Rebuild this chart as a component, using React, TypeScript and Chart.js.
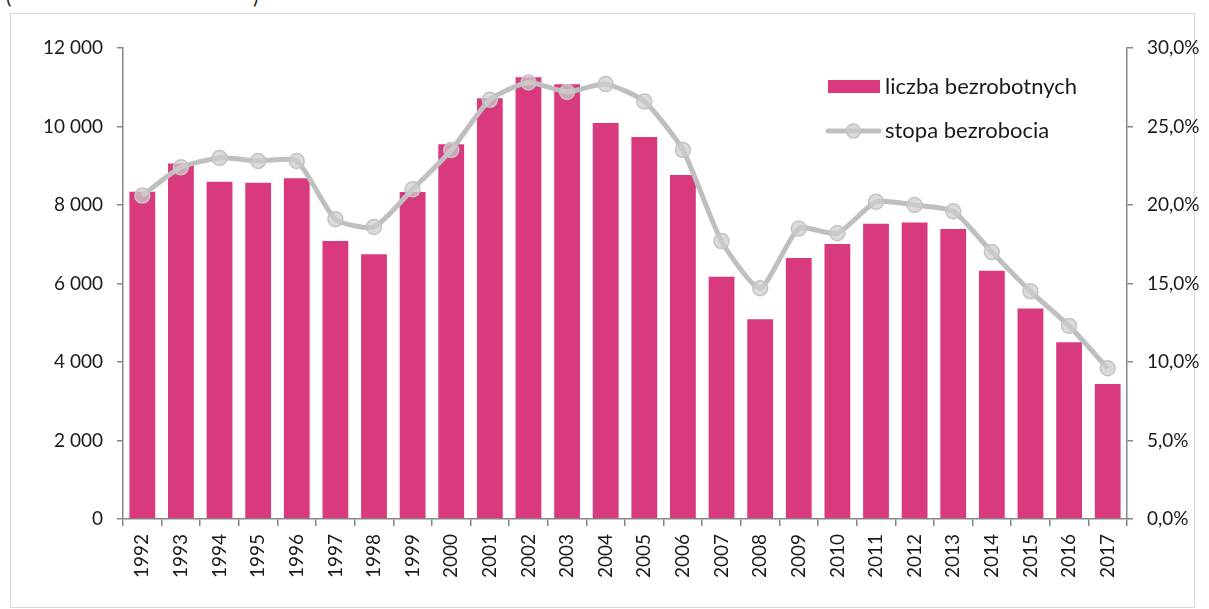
import React, { useEffect, useRef } from "react";
import { Chart, registerables } from "chart.js";

Chart.register(...registerables);

const years = [
  "1992", "1993", "1994", "1995", "1996", "1997", "1998", "1999", "2000", "2001",
  "2002", "2003", "2004", "2005", "2006", "2007", "2008", "2009", "2010", "2011",
  "2012", "2013", "2014", "2015", "2016", "2017",
];

const unemployed = [
  8360, 9080, 8620, 8590, 8705, 7108, 6770, 8357, 9571, 10744,
  11279, 11100, 10115, 9758, 8790, 6199, 5113, 6675, 7032, 7545,
  7580, 7414, 6350, 5390, 4530, 3465,
];

const rate = [
  20.6, 22.4, 23.0, 22.8, 22.8, 19.1, 18.6, 21.0, 23.5, 26.7,
  27.8, 27.2, 27.7, 26.6, 23.5, 17.7, 14.7, 18.5, 18.2, 20.2,
  20.0, 19.6, 17.0, 14.5, 12.3, 9.6,
];

const seriesLabels = ["liczba bezrobotnych", "stopa bezrobocia"];

const FONT_FAMILY = "Lato, 'Open Sans', sans-serif";
const FONT_SIZE = 19;
const LEGEND_FONT_SIZE = 22;
const TEXT_COLOR = "#1a1a1a";
const AXIS_COLOR = "#868686";
const BAR_COLOR = "#D93A7E";
const LINE_COLOR = "#BFBFBF";
const POINT_FILL = "rgba(205,205,205,0.72)";
const POINT_BORDER = "#C4C4C4";

const formatThousands = (v: number) =>
  String(v).replace(/\B(?=(\d{3})+(?!\d))/g, " ");
const formatPercent = (v: number) => v.toFixed(1).replace(".", ",") + "%";

const legendPlugin = {
  id: "insideLegend",
  afterDraw(chart: any) {
    const ctx = chart.ctx;
    const ds = chart.data.datasets;
    const barDs = ds.find((d: any) => d.type === "bar");
    const lineDs = ds.find((d: any) => d.type === "line");
    ctx.save();
    ctx.font = `${LEGEND_FONT_SIZE}px ${FONT_FAMILY}`;
    ctx.textBaseline = "middle";
    ctx.textAlign = "left";
    // bar entry
    ctx.fillStyle = barDs.backgroundColor;
    ctx.fillRect(828, 80, 52, 13);
    ctx.fillStyle = TEXT_COLOR;
    ctx.fillText(barDs.label, 885, 87);
    // line entry
    ctx.strokeStyle = LINE_COLOR;
    ctx.lineWidth = 5;
    ctx.lineCap = "round";
    ctx.beginPath();
    ctx.moveTo(828, 131);
    ctx.lineTo(879, 131);
    ctx.stroke();
    ctx.beginPath();
    ctx.arc(853.5, 131, 7, 0, Math.PI * 2);
    ctx.fillStyle = POINT_FILL;
    ctx.fill();
    ctx.lineWidth = 1.5;
    ctx.strokeStyle = POINT_BORDER;
    ctx.stroke();
    ctx.fillStyle = TEXT_COLOR;
    ctx.fillText(lineDs.label, 885, 131);
    ctx.restore();
  },
};

export default function App() {
  const canvasRef = useRef<HTMLCanvasElement | null>(null);

  useEffect(() => {
    const canvas = canvasRef.current;
    if (!canvas) return;
    const font = { family: FONT_FAMILY, size: FONT_SIZE };
    const chart = new Chart(canvas, {
      type: "bar",
      data: {
        labels: years,
        datasets: [
          {
            type: "line",
            label: seriesLabels[1],
            data: rate,
            yAxisID: "y1",
            borderColor: LINE_COLOR,
            borderWidth: 5,
            tension: 0.2,
            pointRadius: 7.5,
            pointBackgroundColor: POINT_FILL,
            pointBorderColor: POINT_BORDER,
            pointBorderWidth: 1.5,
            order: 0,
          } as any,
          {
            type: "bar",
            label: seriesLabels[0],
            data: unemployed,
            yAxisID: "y",
            backgroundColor: BAR_COLOR,
            borderColor: "rgba(255,255,255,0.45)",
            borderWidth: 1,
            categoryPercentage: 1,
            barPercentage: 0.72,
            order: 1,
          } as any,
        ],
      },
      options: {
        responsive: false,
        animation: false,
        devicePixelRatio: 1,
        layout: { padding: { top: 48, left: 0, right: 0, bottom: 0 } },
        plugins: {
          legend: { display: false },
          tooltip: { enabled: false },
        },
        scales: {
          x: {
            type: "category",
            offset: true,
            grid: {
              offset: true,
              drawOnChartArea: false,
              drawTicks: true,
              tickLength: 7,
              color: AXIS_COLOR,
              lineWidth: 1.5,
            },
            border: { display: true, color: AXIS_COLOR, width: 1.5 },
            ticks: {
              autoSkip: false,
              minRotation: 90,
              maxRotation: 90,
              padding: 8,
              font,
              color: TEXT_COLOR,
            },
            afterFit: (s: any) => {
              s.height = 90;
            },
          },
          y: {
            position: "left",
            min: 0,
            max: 12000,
            grid: {
              drawOnChartArea: false,
              drawTicks: true,
              tickLength: 6,
              color: AXIS_COLOR,
              lineWidth: 1.5,
            },
            border: { display: true, color: AXIS_COLOR, width: 1.5 },
            ticks: {
              stepSize: 2000,
              padding: 14,
              font,
              color: TEXT_COLOR,
              callback: (v: any) => formatThousands(Number(v)),
            },
            afterFit: (s: any) => {
              s.width = 123;
            },
          },
          y1: {
            position: "right",
            min: 0,
            max: 30,
            grid: {
              drawOnChartArea: false,
              drawTicks: true,
              tickLength: 6,
              color: AXIS_COLOR,
              lineWidth: 1.5,
            },
            border: { display: true, color: AXIS_COLOR, width: 1.5 },
            ticks: {
              stepSize: 5,
              padding: 14,
              font,
              color: TEXT_COLOR,
              callback: (v: any) => formatPercent(Number(v)),
            },
            afterFit: (s: any) => {
              s.width = 82;
            },
          },
        },
      } as any,
      plugins: [legendPlugin],
    });
    return () => chart.destroy();
  }, []);

  return (
    <div style={{ position: "absolute", left: 0, top: 0, width: 1209, height: 609, overflow: "hidden", background: "#fff" }}>
      <div
        style={{
          position: "absolute",
          left: 10,
          top: 13,
          width: 1185,
          height: 595,
          border: "1px solid #d9d9d9",
          boxSizing: "border-box",
        }}
      />
      <div style={{ position: "absolute", left: 6, top: -16, fontFamily: FONT_FAMILY, fontSize: 20, color: TEXT_COLOR }}>(</div>
      <div style={{ position: "absolute", left: 253, top: -16, fontFamily: FONT_FAMILY, fontSize: 20, color: TEXT_COLOR }}>)</div>
      <canvas
        ref={canvasRef}
        width={1209}
        height={609}
        style={{ position: "absolute", left: 0, top: 0, width: 1209, height: 609, display: "block" }}
      />
    </div>
  );
}
